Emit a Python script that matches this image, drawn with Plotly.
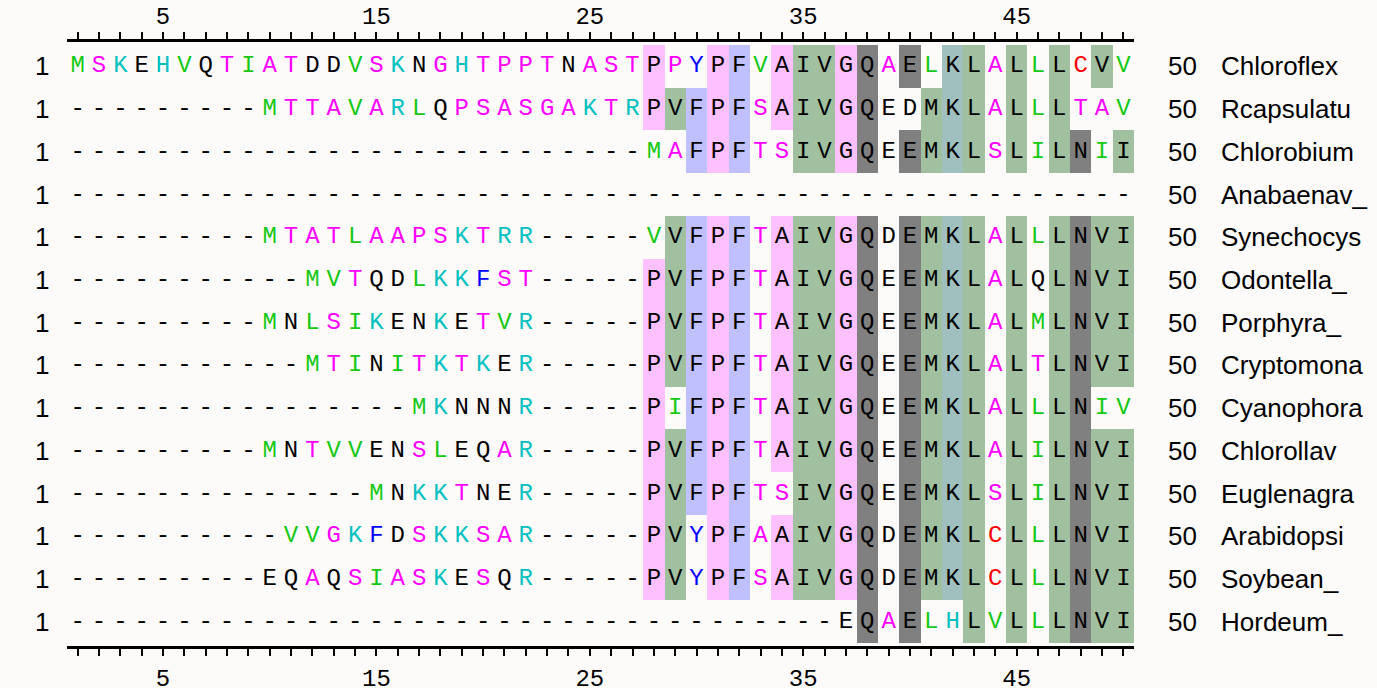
import numpy as np
import plotly.graph_objects as go

# ---------------- data ----------------
names = ["Chloroflex", "Rcapsulatu", "Chlorobium", "Anabaenav_", "Synechocys",
         "Odontella_", "Porphyra_", "Cryptomona", "Cyanophora", "Chlorollav",
         "Euglenagra", "Arabidopsi", "Soybean_", "Hordeum_"]
start_pos = [1] * 14
end_pos = [50] * 14
seqs = [
    "MSKEHVQTIATDDVSKNGHTPPTNASTPPYPFVAIVGQAELKLALLLCVV",
    "-" * 9 + "MTTAVARLQPSASGAKTR" + "PVFPFSAIVGQ" + "EDMKLALLLTAV",
    "-" * 27 + "MAFPFTSIVGQ" + "EEMKLSLILNII",
    "-" * 50,
    "-" * 9 + "MTATLAAPSKTRR" + "-" * 5 + "VVFPFTAIVGQ" + "DEMKLALLLNVI",
    "-" * 11 + "MVTQDLKKFST" + "-" * 5 + "PVFPFTAIVGQ" + "EEMKLALQLNVI",
    "-" * 9 + "MNLSIKENKETVR" + "-" * 5 + "PVFPFTAIVGQ" + "EEMKLALMLNVI",
    "-" * 11 + "MTINITKTKER" + "-" * 5 + "PVFPFTAIVGQ" + "EEMKLALTLNVI",
    "-" * 16 + "MKNNNR" + "-" * 5 + "PIFPFTAIVGQ" + "EEMKLALLLNIV",
    "-" * 9 + "MNTVVENSLEQAR" + "-" * 5 + "PVFPFTAIVGQ" + "EEMKLALILNVI",
    "-" * 14 + "MNKKTNER" + "-" * 5 + "PVFPFTSIVGQ" + "EEMKLSLILNVI",
    "-" * 10 + "VVGKFDSKKSAR" + "-" * 5 + "PVYPFAAIVGQ" + "DEMKLCLLLNVI",
    "-" * 9 + "EQAQSIASKESQR" + "-" * 5 + "PVYPFSAIVGQ" + "DEMKLCLLLNVI",
    "-" * 36 + "EQAELHLVLLLNVI",
]
tick_labels = [5, 15, 25, 35, 45]
conserved_min = 9  # residues identical to column consensus in >= this many rows are shaded

# ---------------- styles ----------------
groups = ["PAGST", "FYW", "VILM", "QEND", "KRH"]
shade_colors = ["#FFC0FF", "#C0C0FF", "#A0C0A0", "#808080", "#A0C0C0"]
letter_colors = {}
for c in "VILM":
    letter_colors[c] = "#14C814"
for c in "PAGST":
    letter_colors[c] = "#FF00FF"
for c in "KRH":
    letter_colors[c] = "#00C0C0"
for c in "FYW":
    letter_colors[c] = "#0000FF"
letter_colors["C"] = "#FF0000"

nrow = len(seqs)
ncol = len(seqs[0])
cols = np.arange(1, ncol + 1)

# consensus shading
z = np.full((nrow, ncol), np.nan)
shaded = np.zeros((nrow, ncol), dtype=bool)
for j in range(ncol):
    col = [s[j] for s in seqs if s[j] != "-"]
    if not col:
        continue
    vals, counts = np.unique(col, return_counts=True)
    k = int(np.argmax(counts))
    if counts[k] >= conserved_min:
        res = vals[k]
        g = [i for i, grp in enumerate(groups) if res in grp][0]
        for i in range(nrow):
            if seqs[i][j] == res:
                z[i, j] = g
                shaded[i, j] = True

cs = []
n = len(shade_colors)
for i, c in enumerate(shade_colors):
    cs.append([i / n, c])
    cs.append([(i + 1) / n, c])

fig = go.Figure()
fig.add_trace(go.Heatmap(
    x=cols, y=list(range(nrow)), z=z, colorscale=cs, zmin=-0.5, zmax=n - 0.5,
    showscale=False, hoverinfo="skip", xgap=0, ygap=0,
))

xs, ys, txt, tcol = [], [], [], []
for i, s in enumerate(seqs):
    for j, ch in enumerate(s):
        xs.append(j + 1)
        ys.append(i)
        txt.append(ch)
        if shaded[i, j]:
            tcol.append("#000000")
        else:
            tcol.append(letter_colors.get(ch, "#000000"))

mono = "Liberation Mono, Courier New, monospace"
fig.add_trace(go.Scatter(
    x=xs, y=ys, mode="text", text=txt, textposition="middle center",
    textfont=dict(family=mono, size=24, color=tcol), hoverinfo="skip",
    showlegend=False,
))
# dummy trace for the top axis
fig.add_trace(go.Scatter(x=[1], y=[0], xaxis="x2", mode="markers",
                         marker=dict(opacity=0), hoverinfo="skip", showlegend=False))

axis_common = dict(
    range=[0.5, ncol + 0.5], showgrid=False, zeroline=False,
    showline=True, linewidth=3, linecolor="black",
    tickmode="array", tickvals=tick_labels, ticktext=[str(t) for t in tick_labels],
    ticks="outside", ticklen=2, tickwidth=2, tickcolor="black",
    tickfont=dict(family=mono, size=24, color="black"),
    minor=dict(ticks="outside", tickmode="linear", tick0=1, dtick=1, ticklen=7,
               tickwidth=2, tickcolor="black", showgrid=False),
    automargin=False,
)
fig.update_layout(
    width=1377, height=688, autosize=False,
    margin=dict(l=67, r=242.5, t=42, b=42, pad=0),
    paper_bgcolor="#FCFBF9", plot_bgcolor="#FCFBF9",
    showlegend=False,
    xaxis=dict(side="bottom", ticklabelstandoff=6, **axis_common),
    xaxis2=dict(side="top", overlaying="x", matches="x", ticklabelstandoff=3, **axis_common),
    yaxis=dict(range=[nrow - 0.5 + 0.07, -0.5 - 0.07], showgrid=False, zeroline=False,
               showticklabels=False, showline=False, ticks="", automargin=False),
)

sans = "Liberation Sans, Arial, sans-serif"
for i in range(nrow):
    fig.add_annotation(x=-0.0234, y=i, xref="paper", yref="y", text=str(start_pos[i]),
                       showarrow=False, xanchor="center", yanchor="middle",
                       font=dict(family=sans, size=26, color="black"))
    fig.add_annotation(x=1.0454, y=i, xref="paper", yref="y", text=str(end_pos[i]),
                       showarrow=False, xanchor="center", yanchor="middle",
                       font=dict(family=sans, size=26, color="black"))
    fig.add_annotation(x=1.0801, y=i, xref="paper", yref="y", text=names[i],
                       showarrow=False, xanchor="left", yanchor="middle",
                       font=dict(family=sans, size=26, color="black"))

fig.write_html("out.html", config={"displayModeBar": False},
               post_script="document.body.style.margin='0';document.body.style.overflow='hidden';")
